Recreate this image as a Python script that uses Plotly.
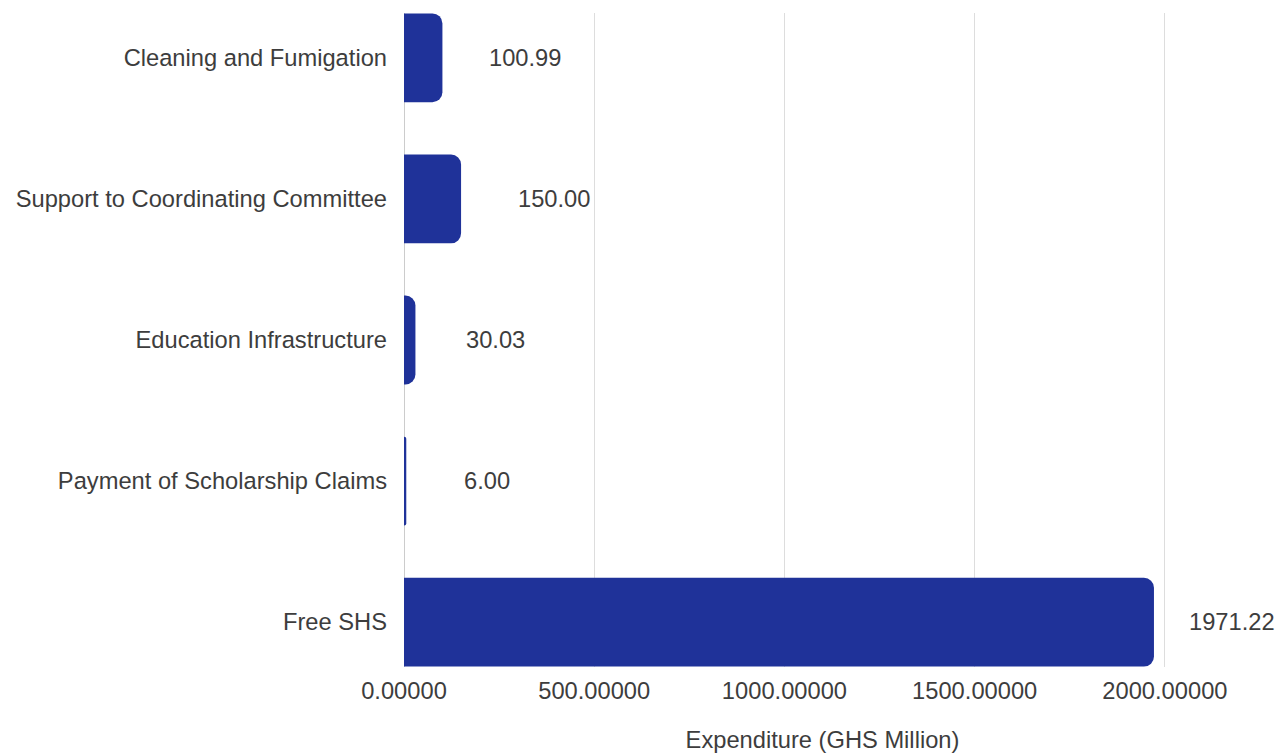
import plotly.graph_objects as go

# Programme expenditure (GHS million), listed top to bottom
programmes = [
    "Cleaning and Fumigation",
    "Support to Coordinating Committee",
    "Education Infrastructure",
    "Payment of Scholarship Claims",
    "Free SHS",
]
expenditure = [100.99, 150.00, 30.03, 6.00, 1971.22]
value_labels = ["100.99", "150.00", "30.03", "6.00", "1971.22"]

# horizontal nudges for the value labels (pixels beyond the bar end)
label_shift = [83, 93, 80, 81, 78]

BAR = "#1F3299"
TEXT = "#3D3D3D"
FONT = "Liberation Sans, Arial, sans-serif"
SIZE = 23.7

fig = go.Figure(
    go.Bar(
        y=programmes,
        x=expenditure,
        orientation="h",
        marker=dict(color=BAR, cornerradius=10, line=dict(width=0)),
        width=0.63,
        hoverinfo="x+y",
    )
)

for name, val, lab, dx in zip(programmes, expenditure, value_labels, label_shift):
    fig.add_annotation(
        x=val, y=name, text=lab, showarrow=False,
        xanchor="center", yanchor="middle", xshift=dx,
        font=dict(family=FONT, size=SIZE, color=TEXT),
    )

fig.update_layout(
    width=1279,
    height=753,
    margin=dict(l=404, r=38, t=13, b=86),
    paper_bgcolor="white",
    plot_bgcolor="white",
    font=dict(family=FONT, size=SIZE, color=TEXT),
    showlegend=False,
    xaxis=dict(
        range=[0, 2200],
        tickvals=[0, 500, 1000, 1500, 2000],
        tickformat=".5f",
        showgrid=True,
        gridcolor="#DDDDDD",
        gridwidth=1,
        zeroline=False,
        showline=False,
        ticks="",
        automargin=False,
        ticklabelstandoff=7,
        title=dict(text="Expenditure (GHS Million)", standoff=30,
                   font=dict(family=FONT, size=SIZE, color=TEXT)),
        tickfont=dict(family=FONT, size=SIZE, color=TEXT),
    ),
    yaxis=dict(
        categoryorder="array",
        categoryarray=programmes,
        range=[4.318, -0.318],
        showgrid=False,
        zeroline=False,
        showline=False,
        ticks="",
        automargin=False,
        ticklabelstandoff=16,
        tickfont=dict(family=FONT, size=SIZE, color=TEXT),
    ),
    shapes=[
        dict(type="line", xref="x", yref="paper", x0=0, x1=0, y0=0, y1=1,
             line=dict(color="#9A9A9A", width=1), layer="below"),
    ],
)

fig.write_html("out.html")
